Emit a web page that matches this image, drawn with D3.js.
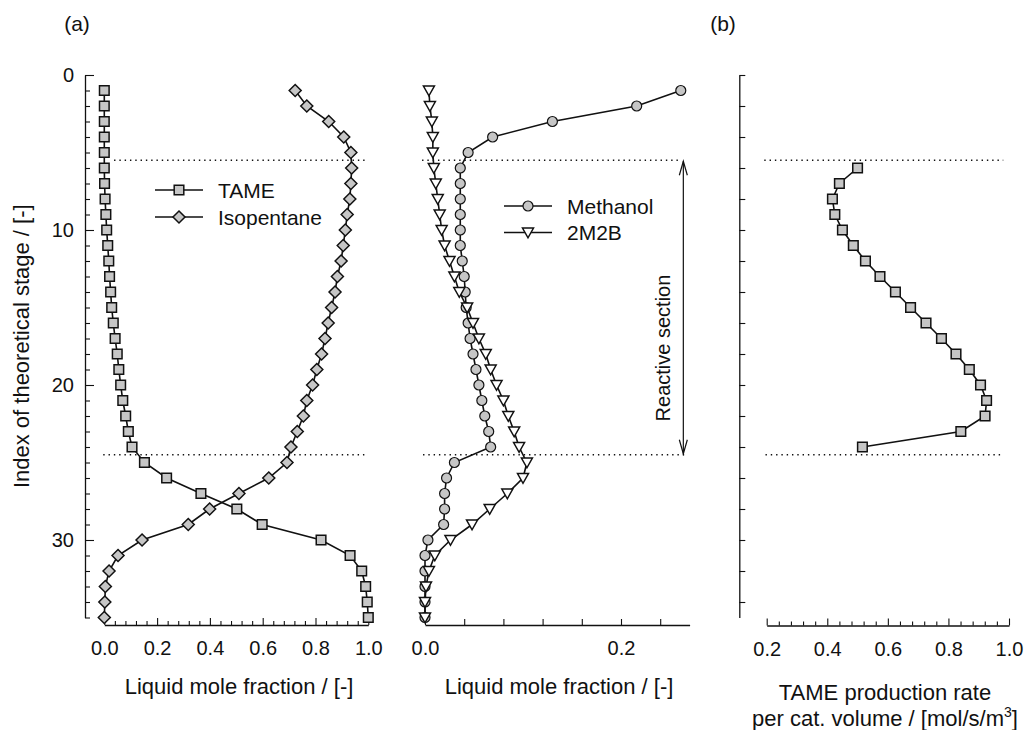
<!DOCTYPE html>
<html>
<head>
<meta charset="utf-8">
<script src="https://cdn.jsdelivr.net/npm/d3@7"></script>
<style>
  body { margin: 0; background: #fff; }
  text { font-family: "Liberation Sans", Arial, Helvetica, sans-serif; fill: #111; }
</style>
</head>
<body>
<svg id="chart" width="1024" height="730"></svg>
<script>
// Liquid composition profiles along the column (stage 1 = top)
const stages = d3.range(1, 36);
const tame = [0.000,0.000,0.000,0.000,0.000,0.000,0.001,0.003,0.006,0.009,0.013,0.017,0.020,0.024,0.028,0.034,0.041,0.049,0.055,0.062,0.070,0.081,0.091,0.105,0.152,0.236,0.366,0.502,0.598,0.821,0.931,0.975,0.990,0.996,1.000];
const isopentane = [0.723,0.767,0.850,0.907,0.934,0.937,0.934,0.930,0.920,0.913,0.905,0.897,0.883,0.874,0.861,0.848,0.836,0.823,0.805,0.789,0.767,0.754,0.731,0.707,0.692,0.623,0.510,0.399,0.318,0.143,0.052,0.018,0.004,0.002,0.000];
const methanol = [0.261,0.216,0.130,0.069,0.044,0.036,0.036,0.036,0.036,0.036,0.036,0.038,0.040,0.041,0.042,0.044,0.046,0.049,0.052,0.055,0.058,0.061,0.065,0.067,0.030,0.022,0.020,0.020,0.019,0.003,0.000,0.000,0.000,0.000,0.000];
const m2b = [0.004,0.005,0.007,0.008,0.008,0.009,0.011,0.013,0.015,0.017,0.020,0.025,0.030,0.035,0.043,0.049,0.055,0.062,0.067,0.073,0.080,0.085,0.091,0.096,0.104,0.100,0.084,0.066,0.048,0.026,0.010,0.004,0.001,0.000,0.000];

// TAME production rate in the catalytic stages
const rateStages = d3.range(6, 25);
const tameRate = [0.500,0.440,0.417,0.425,0.450,0.486,0.526,0.574,0.625,0.675,0.726,0.777,0.825,0.869,0.906,0.926,0.921,0.841,0.516];

// Reactive section boundaries (between stages)
const reactiveBounds = [5.5, 24.5];

const stageTicks = d3.range(0, 36);
const stageLabels = [0, 10, 20, 30];
const rateStageTicks = d3.range(0, 35, 2);
const fracTicksA = d3.range(0, 26).map(i => i * 0.04);
const fracTicksB = d3.range(0, 7).map(i => i * 0.04);
const rateTicks = d3.range(0, 21).map(i => 0.2 + i * 0.04);

const svg = d3.select("#chart");
const FILL = "#c6c6c6";

const y = d3.scaleLinear().domain([0, 35]).range([75, 617.5]);
const xA = d3.scaleLinear().domain([0, 1]).range([104.3, 368.3]);
const xB = d3.scaleLinear().domain([0, 0.27]).range([425, 689.6]);
const xR = d3.scaleLinear().domain([0.2, 1.0]).range([766.7, 1009]);

const isMajor = (d, step) => Math.abs(d / step - Math.round(d / step)) < 1e-6;

function styleAxis(g, fontSize) {
  g.attr("font-family", null).attr("font-size", null);
  g.selectAll("path.domain").attr("stroke", "#111").attr("stroke-width", 1.3);
  g.selectAll(".tick line").attr("stroke", "#111").attr("stroke-width", 1.1);
  g.selectAll(".tick text").style("font-size", fontSize + "px").attr("fill", "#111");
}

// ---- Left stage axis ----
const gyA = svg.append("g").attr("transform", "translate(85,0)")
  .call(d3.axisLeft(y).tickValues(stageTicks).tickSize(-5).tickSizeOuter(0).tickPadding(11)
    .tickFormat(d => stageLabels.includes(d) ? d : ""));
styleAxis(gyA, 20);
gyA.selectAll(".tick line").filter(d => stageLabels.includes(d)).attr("x2", 9);

// ---- Right stage axis (no labels) ----
const gyR = svg.append("g").attr("transform", "translate(739.3,0)")
  .call(d3.axisLeft(y).tickValues(rateStageTicks).tickSize(-6).tickSizeOuter(0).tickFormat(""));
styleAxis(gyR, 20);

// ---- Mole fraction axes ----
const gxA = svg.append("g").attr("transform", "translate(0,625)")
  .call(d3.axisBottom(xA).tickValues(fracTicksA).tickSize(-4).tickSizeOuter(0).tickPadding(16)
    .tickFormat(d => isMajor(d, 0.2) ? d3.format(".1f")(d) : ""));
styleAxis(gxA, 20);
gxA.selectAll(".tick line").filter(d => isMajor(d, 0.2)).attr("y2", -7);

const gxB = svg.append("g").attr("transform", "translate(0,625)")
  .call(d3.axisBottom(xB).tickValues(fracTicksB).tickSize(-6).tickSizeOuter(0).tickPadding(16)
    .tickFormat(d => isMajor(d, 0.2) ? d3.format(".1f")(d) : ""));
styleAxis(gxB, 20);

const gxR = svg.append("g").attr("transform", "translate(0,625.5)")
  .call(d3.axisBottom(xR).tickValues(rateTicks).tickSize(-4).tickSizeOuter(0).tickPadding(16)
    .tickFormat(d => isMajor(d, 0.2) ? d3.format(".1f")(d) : ""));
styleAxis(gxR, 20);
gxR.selectAll(".tick line").filter(d => isMajor(d, 0.2)).attr("y2", -7);

// ---- Reactive section boundaries (dotted) ----
const dotted = (x1, x2, s) => svg.append("line")
  .attr("x1", x1).attr("x2", x2).attr("y1", y(s)).attr("y2", y(s))
  .attr("stroke", "#111").attr("stroke-width", 1.4).attr("stroke-dasharray", "1.4,3.9");
dotted(xA(0.037), xA(0.99), reactiveBounds[0]);
dotted(xA(-0.004), xA(0.99), reactiveBounds[1]);
dotted(xB(-0.003), xB(0.262), reactiveBounds[0]);
dotted(xB(-0.002), xB(0.267), reactiveBounds[1]);
dotted(xR(0.192), xR(0.981), reactiveBounds[0]);
dotted(xR(0.196), xR(0.981), reactiveBounds[1]);

// ---- Markers ----
const squarePath = "M-4.8,-4.8h9.6v9.6h-9.6z";
const diamondPath = "M0,-6L6,0L0,6L-6,0Z";
const trianglePath = "M-5.5,-4.4L5.5,-4.4L0,5.3Z";

function series(xs, values, ys, kind, fill) {
  const pts = values.map((v, i) => [xs(v), y(ys[i])]);
  svg.append("path").attr("d", d3.line()(pts))
    .attr("fill", "none").attr("stroke", "#111").attr("stroke-width", 1.6);
  marker(svg.append("g"), pts, kind, fill);
}
function marker(g, pts, kind, fill) {
  const sel = g.selectAll(null).data(pts).enter();
  if (kind === "circle") {
    sel.append("circle").attr("cx", d => d[0]).attr("cy", d => d[1]).attr("r", 5)
      .attr("fill", fill).attr("stroke", "#111").attr("stroke-width", 1.2);
  } else {
    const p = kind === "square" ? squarePath : kind === "diamond" ? diamondPath : trianglePath;
    sel.append("path").attr("d", p).attr("transform", d => `translate(${d[0]},${d[1]})`)
      .attr("fill", fill).attr("stroke", "#111").attr("stroke-width", 1.5);
  }
}

series(xA, tame, stages, "square", FILL);
series(xA, isopentane, stages, "diamond", FILL);
series(xB, methanol, stages, "circle", FILL);
series(xB, m2b, stages, "triangle", "#fff");
series(xR, tameRate, rateStages, "square", FILL);

// ---- Legends ----
function legendRow(x0, yy, kind, fill, label) {
  svg.append("line").attr("x1", x0).attr("x2", x0 + 48).attr("y1", yy).attr("y2", yy)
    .attr("stroke", "#111").attr("stroke-width", 1.5);
  marker(svg.append("g"), [[x0 + 24, yy]], kind, fill);
  svg.append("text").attr("x", x0 + 63).attr("y", yy + 7.5).style("font-size", "21px").text(label);
}
legendRow(155, 190, "square", FILL, "TAME");
legendRow(155, 217, "diamond", FILL, "Isopentane");
legendRow(504, 206, "circle", FILL, "Methanol");
legendRow(504, 232.5, "triangle", "#fff", "2M2B");

// ---- Reactive section arrow ----
const ax = xB(0.2636);
svg.append("line").attr("x1", ax).attr("x2", ax).attr("y1", y(reactiveBounds[0]) + 1).attr("y2", y(reactiveBounds[1]) - 1)
  .attr("stroke", "#111").attr("stroke-width", 1.2);
[[reactiveBounds[0], 1], [reactiveBounds[1], -1]].forEach(([s, dir]) => {
  const yy = y(s) + dir;
  svg.append("path").attr("d", `M${ax - 4},${yy + dir * 14}L${ax},${yy}L${ax + 4},${yy + dir * 14}`)
    .attr("fill", "none").attr("stroke", "#111").attr("stroke-width", 1.2);
});
svg.append("text").attr("transform", "translate(669.5,348) rotate(-90)")
  .attr("text-anchor", "middle").style("font-size", "20px").text("Reactive section");

// ---- Titles ----
svg.append("text").attr("x", 77).attr("y", 31).attr("text-anchor", "middle").style("font-size", "21px").text("(a)");
svg.append("text").attr("x", 723).attr("y", 31).attr("text-anchor", "middle").style("font-size", "21px").text("(b)");

svg.append("text").attr("transform", `translate(29,${(y(0) + y(35)) / 2}) rotate(-90)`).attr("text-anchor", "middle")
  .style("font-size", "22px").text("Index of theoretical stage / [-]");

svg.append("text").attr("x", 239).attr("y", 694).attr("text-anchor", "middle").style("font-size", "22px")
  .text("Liquid mole fraction / [-]");
svg.append("text").attr("x", 559).attr("y", 694).attr("text-anchor", "middle").style("font-size", "22px")
  .text("Liquid mole fraction / [-]");
svg.append("text").attr("x", 885).attr("y", 700).attr("text-anchor", "middle").style("font-size", "22px")
  .text("TAME production rate");
const t2 = svg.append("text").attr("x", 885).attr("y", 726).attr("text-anchor", "middle").style("font-size", "22px");
t2.append("tspan").text("per cat. volume / [mol/s/m");
t2.append("tspan").attr("dy", -9).style("font-size", "14px").text("3");
t2.append("tspan").attr("dy", 9).text("]");
</script>
</body>
</html>
